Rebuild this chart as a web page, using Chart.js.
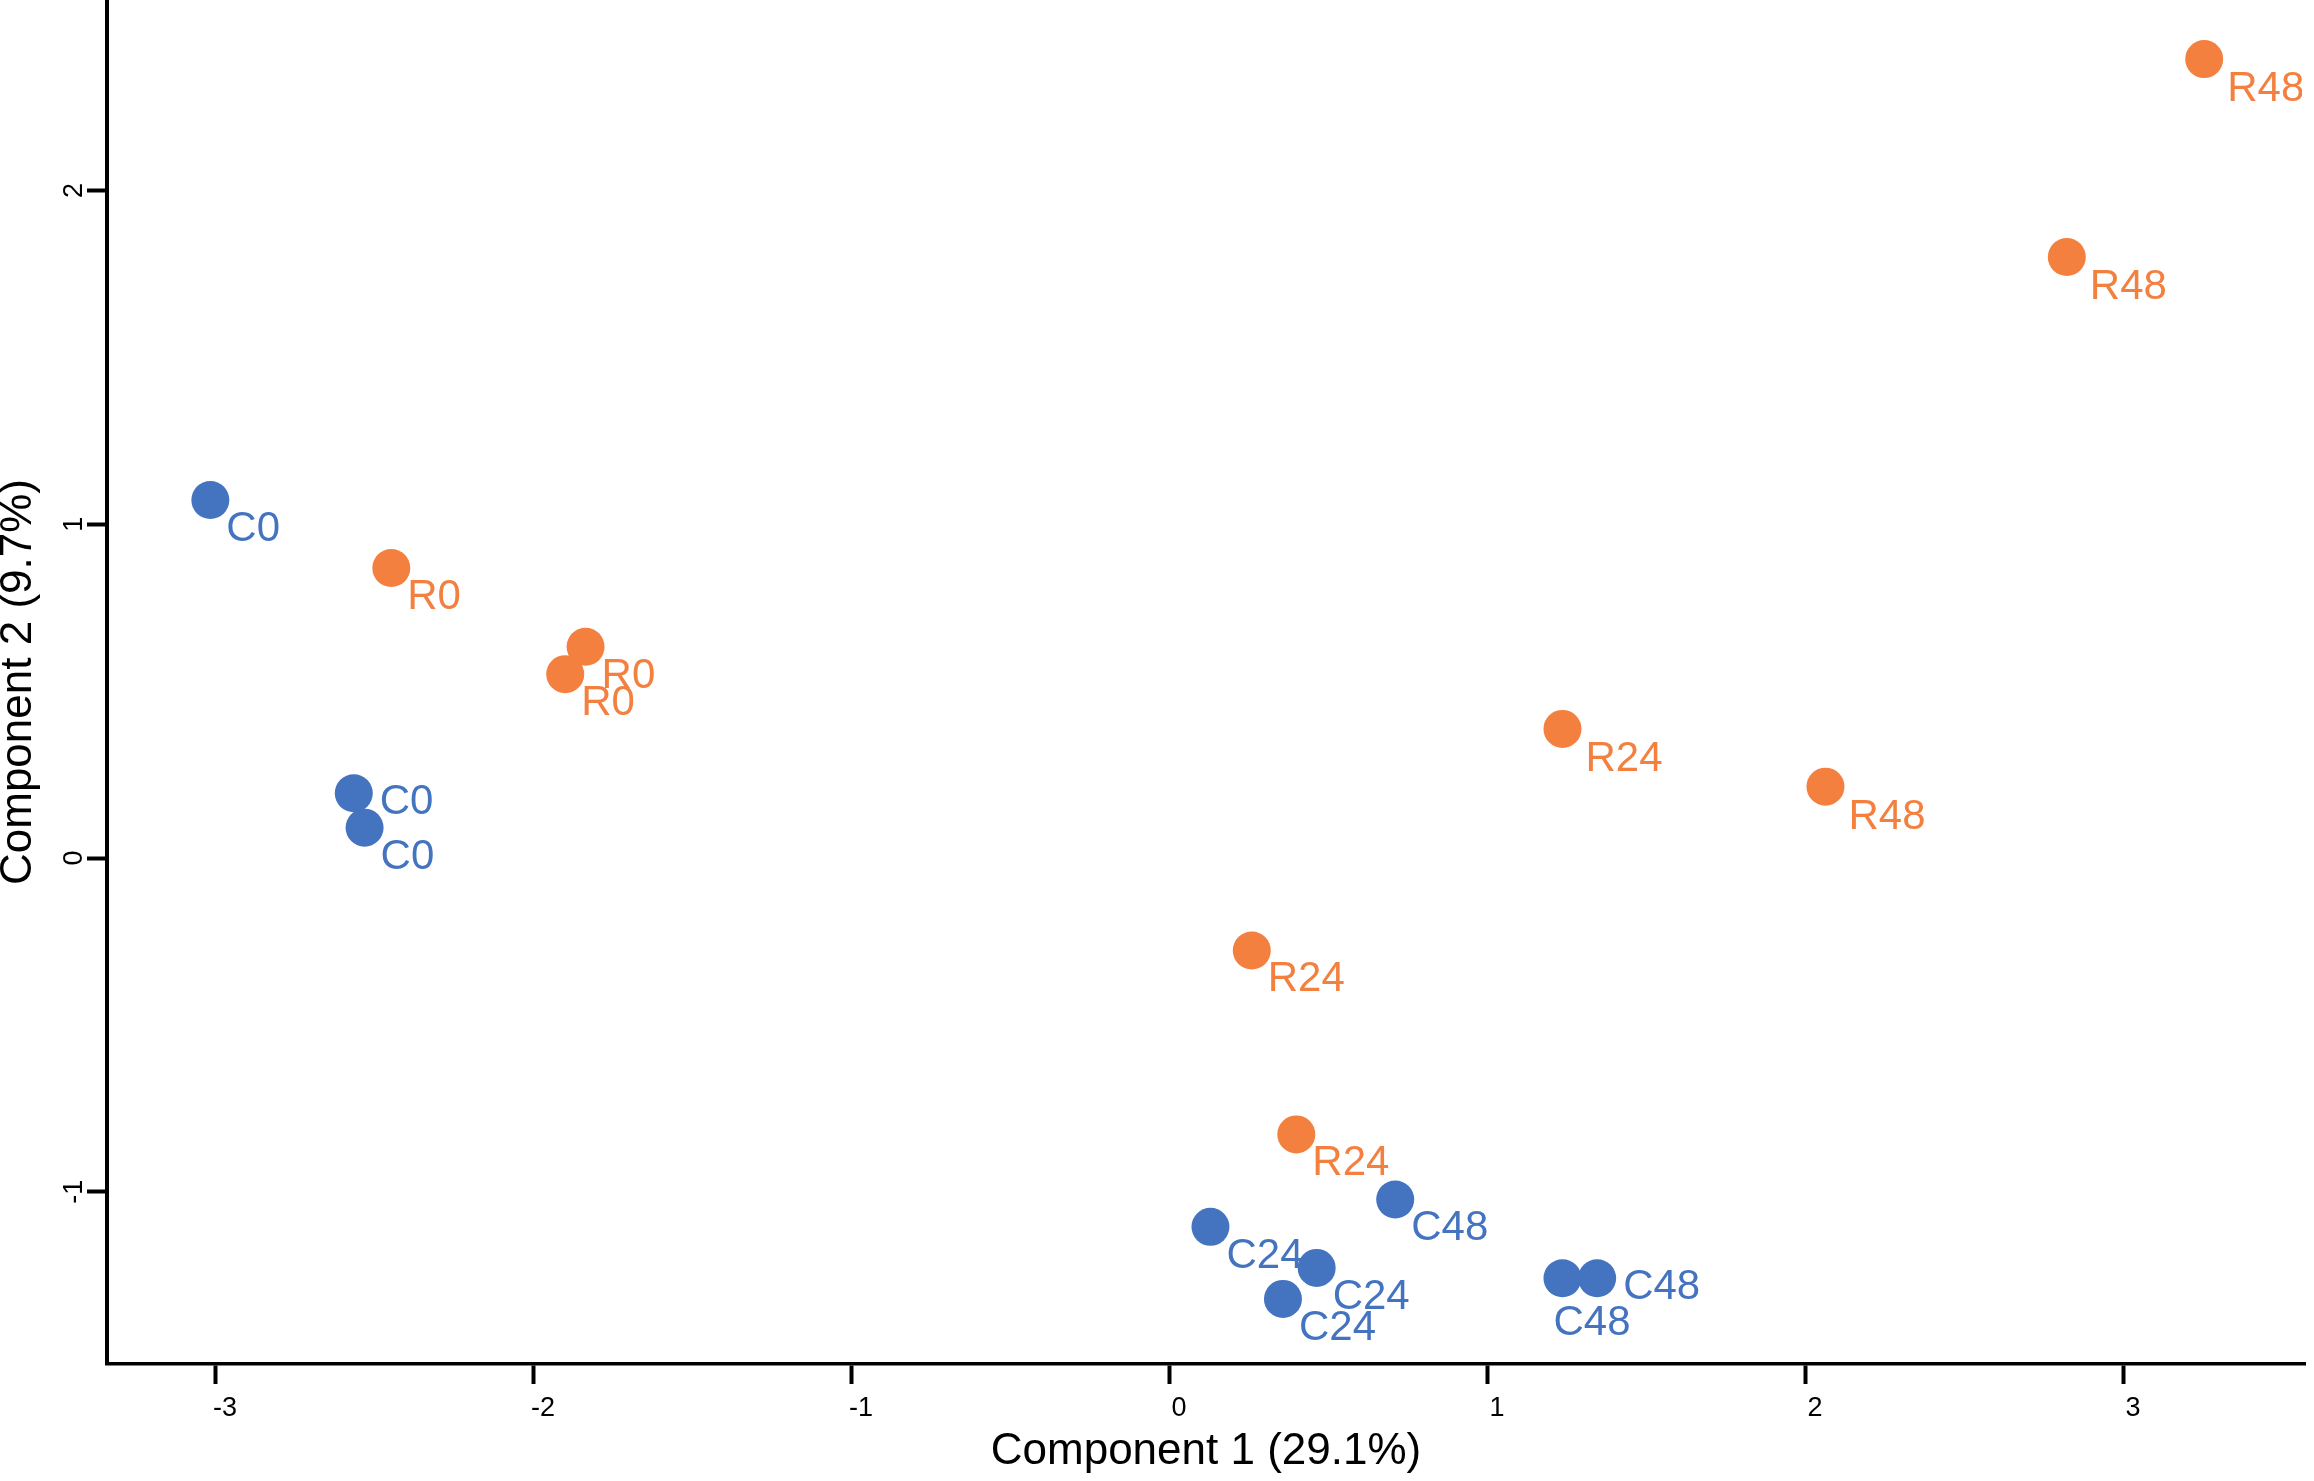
<!DOCTYPE html>
<html>
<head>
<meta charset="utf-8">
<title>PCA scores</title>
<script src="https://cdn.jsdelivr.net/npm/chart.js@4.4.1/dist/chart.umd.min.js"></script>
<style>
  html, body { margin: 0; padding: 0; background: #fff; }
  #wrap { width: 2314px; height: 1481px; position: relative; }
</style>
</head>
<body>
<div id="wrap"><canvas id="pcaChart"></canvas></div>
<script>
// Scores on component 1 / component 2, control samples
const cNames = ['C0', 'C0', 'C0', 'C24', 'C24', 'C24', 'C48', 'C48', 'C48'];
const cX = [-3.015, -2.564, -2.530, 0.130, 0.464, 0.358, 0.711, 1.237, 1.346];
const cY = [1.073, 0.194, 0.091, -1.105, -1.228, -1.321, -1.023, -1.259, -1.259];

// treated samples
const rNames = ['R0', 'R0', 'R0', 'R24', 'R24', 'R24', 'R48', 'R48', 'R48'];
const rX = [-2.446, -1.835, -1.899, 1.237, 0.260, 0.400, 2.064, 2.823, 3.255];
const rY = [0.869, 0.633, 0.551, 0.387, -0.277, -0.828, 0.214, 1.801, 2.394];

const xTicks = [-3, -2, -1, 0, 1, 2, 3];
const yTicks = [-1, 0, 1, 2];

// which side of the dot each name goes on
const cLabelSide = ['se', 'e', 'se', 'se', 'se', 'se', 'se', 's', 'e'];
const rLabelSide = ['se', 'se', 'se', 'se2', 'se', 'se', 'se2', 'se2', 'se2'];

const BLUE = '#4473c0';
const ORANGE = '#f3803f';
const FONT = '"Liberation Sans", Arial, Helvetica, sans-serif';

const sideOffset = { se: [16, 41], se2: [23, 42], e: [26, 21], s: [-9, 57] };

// draw the sample names next to the dots
const nameLabels = {
    id: 'nameLabels',
    afterDatasetsDraw(chart) {
        const ctx = chart.ctx;
        ctx.save();
        ctx.beginPath();
        ctx.rect(0, 0, chart.chartArea.right - 3, chart.height);
        ctx.clip();
        ctx.font = '42px ' + FONT;
        ctx.textAlign = 'left';
        ctx.textBaseline = 'alphabetic';
        chart.data.datasets.forEach((ds, i) => {
            ctx.fillStyle = ds.backgroundColor;
            chart.getDatasetMeta(i).data.forEach((pt, j) => {
                const off = sideOffset[ds.sides[j]];
                ctx.fillText(ds.names[j], pt.x + off[0], pt.y + off[1]);
            });
        });
        ctx.restore();
    }
};

const cData = cX.map((x, i) => ({ x: x, y: cY[i] }));
const rData = rX.map((x, i) => ({ x: x, y: rY[i] }));

new Chart(document.getElementById('pcaChart'), {
    type: 'scatter',
    data: {
        datasets: [
            { label: 'C', data: cData, names: cNames, sides: cLabelSide, backgroundColor: BLUE, borderWidth: 0, pointRadius: 19, pointHoverRadius: 19 },
            { label: 'R', data: rData, names: rNames, sides: rLabelSide, backgroundColor: ORANGE, borderWidth: 0, pointRadius: 19, pointHoverRadius: 19 }
        ]
    },
    options: {
        responsive: true,
        maintainAspectRatio: false,
        devicePixelRatio: 1,
        animation: false,
        events: [],
        layout: { autoPadding: false, padding: { top: 0, right: 9, bottom: 0, left: 0 } },
        plugins: { legend: { display: false }, tooltip: { enabled: false } },
        scales: {
            x: {
                type: 'linear',
                min: -3.34,
                max: 3.572,
                afterBuildTicks: axis => { axis.ticks = xTicks.map(v => ({ value: v })); },
                afterFit: axis => { axis.height = 117; axis.paddingLeft = 0; axis.paddingRight = 0; },
                grid: { drawOnChartArea: false, drawTicks: true, tickLength: 20, tickWidth: 4, tickColor: '#000' },
                border: { display: true, color: '#000', width: 3.5 },
                ticks: { color: '#000', font: { family: FONT, size: 27 }, padding: 8, labelOffset: 10, maxRotation: 0, autoSkip: false },
                title: { display: true, text: 'Component 1 (29.1%)', color: '#000', font: { family: FONT, size: 44, lineHeight: 1.2 }, padding: { top: 0, bottom: 3 } }
            },
            y: {
                type: 'linear',
                min: -1.516,
                max: 2.571,
                afterBuildTicks: axis => { axis.ticks = yTicks.map(v => ({ value: v })); },
                afterFit: axis => { axis.width = 107; axis.paddingTop = 0; axis.paddingBottom = 0; },
                grid: { drawOnChartArea: false, drawTicks: true, tickLength: 20, tickWidth: 4, tickColor: '#000' },
                border: { display: true, color: '#000', width: 4 },
                ticks: { color: '#000', font: { family: FONT, size: 27 }, padding: 0, minRotation: 90, maxRotation: 90, crossAlign: 'center', autoSkip: false },
                title: { display: true, text: 'Component 2 (9.7%)', color: '#000', font: { family: FONT, size: 44, lineHeight: 0.87 }, padding: { top: 0, bottom: 0 } }
            }
        }
    },
    plugins: [nameLabels]
});
</script>
</body>
</html>
